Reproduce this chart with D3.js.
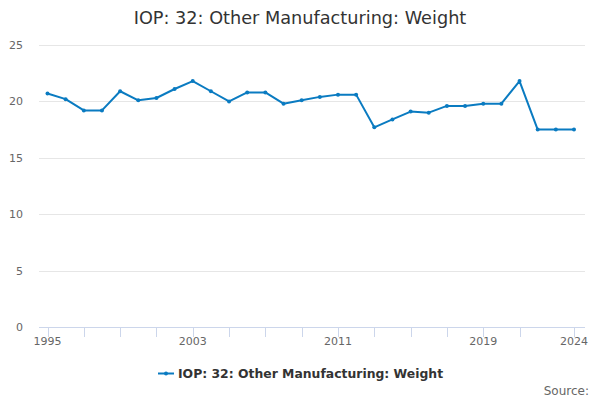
<!DOCTYPE html>
<html><head><meta charset="utf-8">
<script src="https://cdn.jsdelivr.net/npm/d3@7"></script>
<style>body{margin:0;background:#fff;}svg{display:block;font-family:"DejaVu Sans",sans-serif;}</style>
</head><body>
<svg id="c" width="600" height="400"></svg>
<script>
const years = [1995,1996,1997,1998,1999,2000,2001,2002,2003,2004,2005,2006,2007,2008,2009,2010,2011,2012,2013,2014,2015,2016,2017,2018,2019,2020,2021,2022,2023,2024];
const values = [20.7,20.2,19.2,19.2,20.9,20.1,20.3,21.1,21.8,20.9,20.0,20.8,20.8,19.8,20.1,20.4,20.6,20.6,17.7,18.4,19.1,19.0,19.6,19.6,19.8,19.8,21.8,17.5,17.5,17.5];
const yTicks = [0,5,10,15,20,25];
const xTickYears = [1995,1997,1999,2001,2003,2005,2007,2009,2011,2013,2015,2017,2019,2021,2024];
const xLabelYears = [1995,2003,2011,2019,2024];
const title = "IOP: 32: Other Manufacturing: Weight";
const seriesName = "IOP: 32: Other Manufacturing: Weight";

const svg = d3.select("#c");
const L = 39, R = 585, T = 45, B = 327;
const x = d3.scaleLinear().domain([1995, 2024]).range([47.5, 574]);
const y = d3.scaleLinear().domain([0, 25]).range([B, T]);

svg.append("text").attr("x", 300).attr("y", 24).attr("text-anchor", "middle")
  .attr("font-size", 17.7).attr("fill", "#333").text(title);

// grid
svg.append("g").selectAll("line").data(yTicks.filter(d => d > 0)).join("line")
  .attr("x1", L).attr("x2", R).attr("y1", d => Math.round(y(d)) + 0.5).attr("y2", d => Math.round(y(d)) + 0.5)
  .attr("stroke", "#e6e6e6").attr("stroke-width", 1);
svg.append("g").selectAll("text").data(yTicks).join("text")
  .attr("x", 23).attr("y", d => y(d) + 4).attr("text-anchor", "end")
  .attr("font-size", 11).attr("fill", "#666").text(d => d);

// x axis
svg.append("line").attr("x1", L).attr("x2", R).attr("y1", B + 0.5).attr("y2", B + 0.5)
  .attr("stroke", "#ccd6eb");
svg.append("g").selectAll("line").data(xTickYears).join("line")
  .attr("x1", d => Math.round(x(d)) + 0.5).attr("x2", d => Math.round(x(d)) + 0.5)
  .attr("y1", B).attr("y2", B + 10).attr("stroke", "#ccd6eb");
svg.append("g").selectAll("text").data(xLabelYears).join("text")
  .attr("x", d => x(d)).attr("y", B + 18).attr("text-anchor", "middle")
  .attr("font-size", 11).attr("fill", "#666").text(d => d);

// line
const color = "#0a7bc1";
const data = years.map((yr, i) => ({yr, v: values[i]}));
svg.append("path").datum(data)
  .attr("d", d3.line().x(d => x(d.yr)).y(d => y(d.v)))
  .attr("fill", "none").attr("stroke", color).attr("stroke-width", 2)
  .attr("stroke-linejoin", "round").attr("stroke-linecap", "round");
svg.append("g").selectAll("circle").data(data).join("circle")
  .attr("cx", d => x(d.yr)).attr("cy", d => y(d.v)).attr("r", 2).attr("fill", color);

// legend
const lg = svg.append("g");
lg.append("text").attr("x", 178).attr("y", 378).attr("font-size", 12.4)
  .attr("font-weight", "bold").attr("fill", "#333").text(seriesName);
lg.append("line").attr("x1", 158).attr("x2", 174).attr("y1", 373.5).attr("y2", 373.5)
  .attr("stroke", color).attr("stroke-width", 2);
lg.append("circle").attr("cx", 166).attr("cy", 373.5).attr("r", 2).attr("fill", color);

svg.append("text").attr("x", 589).attr("y", 395).attr("text-anchor", "end")
  .attr("font-size", 12).attr("fill", "#666").text("Source:");
</script>
</body></html>
